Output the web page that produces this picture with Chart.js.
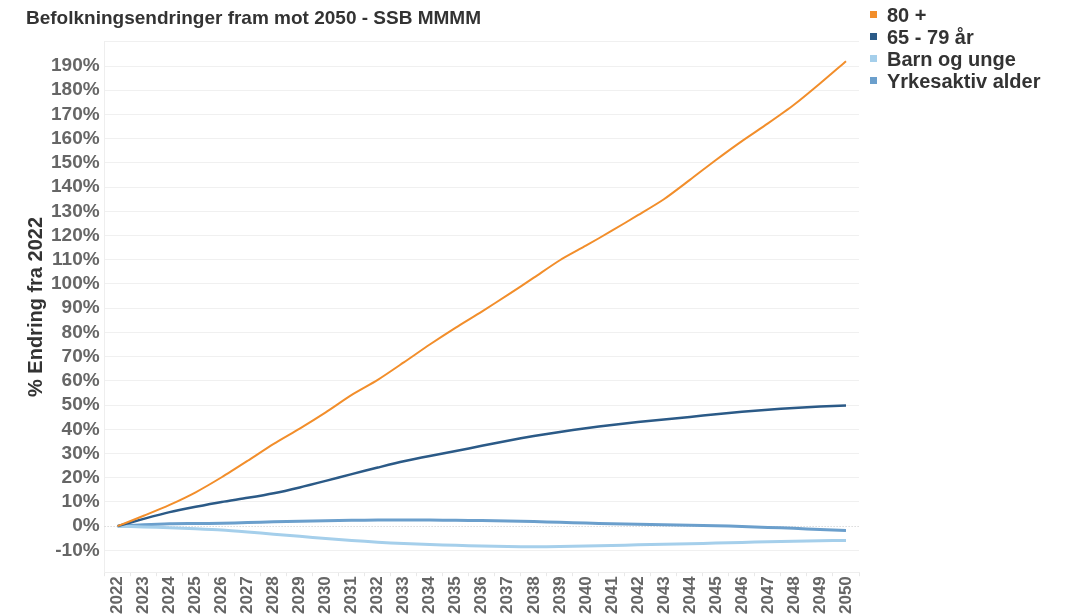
<!DOCTYPE html>
<html lang="no">
<head>
<meta charset="utf-8">
<title>Befolkningsendringer fram mot 2050</title>
<script src="https://cdn.jsdelivr.net/npm/chart.js@4.4.1/dist/chart.umd.min.js"></script>
<style>
    html, body { margin: 0; padding: 0; background: #fff; }
    #wrap { position: relative; width: 1066px; height: 616px; }
    #legend {
        position: absolute; left: 870px; top: 4px;
        font: bold 20px Arial, "Liberation Sans", sans-serif; color: #333;
    }
    #legend div { height: 22px; line-height: 22px; white-space: nowrap; }
    #legend span { display: inline-block; width: 7px; height: 7px; margin-right: 10px; vertical-align: middle; position: relative; top: -2px; }
</style>
</head>
<body>
<div id="wrap">
    <canvas id="befolkningChart" width="1066" height="616"></canvas>
    <div id="legend"></div>
</div>
<script>
const FONT = 'Arial, "Liberation Sans", sans-serif';

const years = [
    "2022", "2023", "2024", "2025", "2026", "2027", "2028", "2029", "2030", "2031",
    "2032", "2033", "2034", "2035", "2036", "2037", "2038", "2039", "2040", "2041",
    "2042", "2043", "2044", "2045", "2046", "2047", "2048", "2049", "2050"
];

// prosent endring fra 2022
const eldre80 = [
    0, 4.3, 8.8, 14, 20.2, 27, 34, 40.3, 47, 54.2,
    60.4, 67.6, 75, 82, 88.6, 95.5, 102.6, 109.8, 115.8, 122,
    128.4, 135, 143, 151.2, 159, 166.3, 174, 182.8, 192
];
const eldre65 = [
    0, 3, 5.8, 8, 10, 11.7, 13.6, 16, 18.7, 21.5,
    24.2, 26.8, 29, 31, 33.2, 35.3, 37.2, 38.9, 40.4, 41.8,
    43, 44, 45.1, 46.2, 47.2, 48.1, 48.8, 49.4, 49.8
];
const barnUnge = [
    0, -0.3, -0.7, -1.1, -1.6, -2.4, -3.3, -4.2, -5.1, -5.9,
    -6.6, -7.2, -7.6, -7.9, -8.2, -8.4, -8.5, -8.4, -8.2, -8.0,
    -7.7, -7.5, -7.3, -7.0, -6.7, -6.4, -6.2, -6.0, -5.9
];
const yrkesaktiv = [
    0, 0.6, 1.0, 1.1, 1.2, 1.5, 1.8, 2.0, 2.2, 2.4,
    2.5, 2.5, 2.5, 2.4, 2.3, 2.1, 1.9, 1.6, 1.3, 1.0,
    0.8, 0.6, 0.4, 0.2, -0.1, -0.5, -0.9, -1.4, -1.8
];

// y-akse: -10 % til 200 %, merke for hver 10. prosent
const yTicks = [
    -10, 0, 10, 20, 30, 40, 50, 60, 70, 80, 90, 100,
    110, 120, 130, 140, 150, 160, 170, 180, 190, 200
];

const serieNavn = ["80 +", "65 - 79 år", "Barn og unge", "Yrkesaktiv alder"];
const serieFarger = ["#f28e2b", "#2b5a87", "#a5cfeb", "#6b9fcc"];
const serieData = [eldre80, eldre65, barnUnge, yrkesaktiv];
const serieBredde = [2, 2.5, 3, 3];

// stiplet nullinje bak linjene
const nullLinje = {
    id: "nullLinje",
    beforeDatasetsDraw(chart) {
        const { ctx, chartArea, scales } = chart;
        const y = Math.round(scales.y.getPixelForValue(0)) + 0.5;
        ctx.save();
        ctx.strokeStyle = "#c8c8c8";
        ctx.lineWidth = 1;
        ctx.setLineDash([1, 2]);
        ctx.beginPath();
        ctx.moveTo(chartArea.left, y);
        ctx.lineTo(chartArea.right, y);
        ctx.stroke();
        ctx.restore();
    }
};

const dados = {
    labels: years,
    datasets: serieNavn.map((navn, i) => ({
        label: navn,
        data: serieData[i],
        borderColor: serieFarger[i],
        backgroundColor: serieFarger[i],
        borderWidth: serieBredde[i],
        pointRadius: 0,
        tension: 0.25,
        fill: false,
    })),
};

const config = {
    type: "line",
    data: dados,
    options: {
        responsive: false,
        animation: false,
        layout: { padding: { left: 26, right: 207, top: 0, bottom: 2 } },
        plugins: {
            title: {
                display: true,
                text: "Befolkningsendringer fram mot 2050 - SSB MMMM",
                align: "start",
                color: "#333",
                font: { family: FONT, size: 19, weight: "bold" },
                padding: { top: 7, bottom: 12 },
            },
            legend: { display: false },
            tooltip: { enabled: false },
        },
        scales: {
            x: {
                offset: true,
                grid: {
                    offset: true,
                    drawOnChartArea: false,
                    tickLength: 4,
                    color: "#e8e8e8",
                },
                border: { color: "#eeeeee" },
                ticks: {
                    color: "#666",
                    font: { family: FONT, size: 17, weight: "bold" },
                    minRotation: 90,
                    maxRotation: 90,
                    autoSkip: false,
                    padding: 0,
                },
            },
            y: {
                min: -19,
                max: 200,
                afterBuildTicks: (scale) => {
                    scale.ticks = yTicks.map((v) => ({ value: v }));
                },
                grid: {
                    color: (c) => (c.tick && c.tick.value === 0 ? "transparent" : "#f0f0f0"),
                    drawTicks: false,
                },
                border: { color: "#eeeeee" },
                ticks: {
                    color: "#666",
                    padding: 5,
                    autoSkip: false,
                    font: { family: FONT, size: 19, weight: "bold" },
                    callback: (v) => (v === 200 ? "" : v + "%"),
                },
                title: {
                    display: true,
                    text: "% Endring fra 2022",
                    color: "#333",
                    font: { family: FONT, size: 20, weight: "bold", lineHeight: 1 },
                    padding: { top: 0, bottom: 0 },
                },
            },
        },
    },
    plugins: [nullLinje],
};

const ctx = document.getElementById("befolkningChart").getContext("2d");
const globalChart = new Chart(ctx, config);

// forklaring til høyre for plottet
const legendEl = document.getElementById("legend");
globalChart.data.datasets.forEach((ds) => {
    const rad = document.createElement("div");
    const boks = document.createElement("span");
    boks.style.background = ds.borderColor;
    rad.appendChild(boks);
    rad.appendChild(document.createTextNode(ds.label));
    legendEl.appendChild(rad);
});
</script>
</body>
</html>
